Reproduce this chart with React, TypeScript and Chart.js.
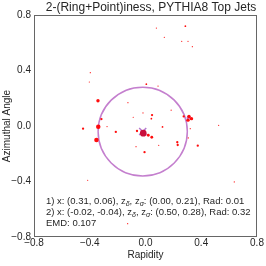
import React, { useEffect, useRef } from 'react';
import { Chart, registerables } from 'chart.js';

Chart.register(...registerables);

// ---- Data ----
const particleX = [0.078, 0.286, 0.135, 0.260, 0.305, 0.336, -0.396, -0.403, 0.006, 0.090, -0.341, -0.126, -0.316, -0.339, -0.448, -0.276, -0.213, -0.088, -0.018, 0.047, 0.042, 0.122, 0.184, 0.274, 0.312, 0.330, 0.305, 0.321, 0.525, -0.016, 0.020, 0.045, -0.061, -0.352, 0.228, 0.231, 0.375, 0.095, -0.007, -0.068, -0.415, 0.637, -0.128, 0.307];
const particleY = [0.706, 0.719, 0.639, 0.610, 0.610, 0.572, 0.384, 0.317, 0.301, 0.288, 0.182, 0.168, 0.050, -0.005, -0.019, -0.004, -0.043, 0.063, 0.094, 0.079, 0.053, -0.007, 0.114, 0.069, 0.069, 0.053, 0.042, -0.019, 0.005, -0.052, -0.067, -0.081, -0.036, -0.101, -0.117, -0.137, -0.142, -0.139, -0.189, -0.149, -0.391, -0.403, -0.704, -0.086];
const particleWeight = [1, 1.5, 1, 1, 1, 1, 1, 1, 1.5, 1, 3, 1, 2, 4, 2, 1, 2, 1, 1, 2, 1.5, 1.5, 1, 2, 3, 3, 3, 1, 1, 6, 2.5, 2.5, 2, 4, 2, 2, 2, 1, 2, 1, 1, 1, 1, 1];

const ringLabels = ['1)', '2)'];
const ringX = [0.31, -0.02];
const ringY = [0.06, -0.04];
const ringZDelta = [0.0, 0.5];
const ringZSigma = [0.21, 0.28];
const ringRad = [0.01, 0.32];
const emdValue = 0.107;

const axisTicks = [-0.8, -0.4, 0.0, 0.4, 0.8];
const axisTickLabels = ['\u22120.8', '\u22120.4', '0.0', '0.4', '0.8'];

const titleText = '2-(Ring+Point)iness, PYTHIA8 Top Jets';
const xTitle = 'Rapidity';
const yTitle = 'Azimuthal Angle';

const FONT = '"Liberation Sans", Arial, sans-serif';

const fmt = (v: number) => v.toFixed(2);

const overlayPlugin = {
  id: 'overlay',
  beforeDatasetsDraw(chart: any) {
    const { ctx, scales } = chart;
    const xs = scales.x;
    const ys = scales.y;
    ctx.save();
    ctx.strokeStyle = '#c47fce';
    ctx.lineWidth = 1.5;
    for (let i = 0; i < ringX.length; i++) {
      const cx = xs.getPixelForValue(ringX[i]);
      const cy = ys.getPixelForValue(ringY[i]);
      const rx = Math.abs(xs.getPixelForValue(ringX[i] + ringRad[i]) - cx);
      const ry = Math.abs(ys.getPixelForValue(ringY[i] + ringRad[i]) - cy);
      ctx.beginPath();
      ctx.ellipse(cx, cy, rx, ry, 0, 0, Math.PI * 2);
      ctx.stroke();
    }
    ctx.restore();
  },
  afterDraw(chart: any) {
    const { ctx, chartArea } = chart;
    const { left, right, top, bottom } = chartArea;
    ctx.save();
    // frame
    ctx.strokeStyle = '#666';
    ctx.lineWidth = 1;
    ctx.strokeRect(left + 0.5, top + 0.5, right - left - 1, bottom - top - 1);

    // title
    ctx.fillStyle = '#262626';
    ctx.font = `12px ${FONT}`;
    ctx.textAlign = 'center';
    ctx.textBaseline = 'middle';
    ctx.fillText(titleText, 151, 8);

    // axis titles
    ctx.font = `10px ${FONT}`;
    ctx.fillText(xTitle, (left + right) / 2, 255);
    ctx.save();
    ctx.translate(7, (top + bottom) / 2);
    ctx.rotate(-Math.PI / 2);
    ctx.fillText(yTitle, 0, 0);
    ctx.restore();

    // annotation
    ctx.textAlign = 'left';
    ctx.textBaseline = 'middle';
    const size = 9.5;
    const lineY = [201.5, 212.5, 223.5];
    const drawSegs = (segs: [string, boolean][], x: number, y: number) => {
      let cx = x;
      for (const [t, sub] of segs) {
        if (sub) {
          ctx.font = `italic 7px ${FONT}`;
          ctx.fillText(t, cx, y + 2.5);
        } else {
          ctx.font = `${size}px ${FONT}`;
          ctx.fillText(t, cx, y);
        }
        cx += ctx.measureText(t).width;
      }
    };
    for (let i = 0; i < ringX.length; i++) {
      drawSegs(
        [
          [`${ringLabels[i]} x: (${fmt(ringX[i])}, ${fmt(ringY[i])}), z`, false],
          ['\u03b4', true],
          [', z', false],
          ['\u03c3', true],
          [`: (${fmt(ringZDelta[i])}, ${fmt(ringZSigma[i])}), Rad: ${fmt(ringRad[i])}`, false],
        ],
        46,
        lineY[i]
      );
    }
    drawSegs([[`EMD: ${emdValue.toFixed(3)}`, false]], 46, lineY[2]);
    ctx.restore();
  },
};

export default function App() {
  const ref = useRef<HTMLCanvasElement>(null);
  useEffect(() => {
    if (!ref.current) return;
    const pts = particleX.map((x, i) => ({ x, y: particleY[i] }));
    const chart = new Chart(ref.current, {
      type: 'scatter',
      data: {
        datasets: [
          {
            data: pts,
            pointRadius: particleWeight.map((w) => 0.6 + (w - 1) * 0.55),
            pointHoverRadius: particleWeight.map((w) => 0.6 + (w - 1) * 0.55),
            backgroundColor: particleWeight.map((w) => (w >= 5 ? '#c8103c' : 'rgba(255,0,0,0.95)')),
            borderWidth: 0,
          },
          {
            data: [{ x: ringX[1], y: ringY[1] }],
            pointStyle: 'crossRot',
            pointRadius: 5,
            borderColor: '#b57ad0',
            borderWidth: 1.5,
            backgroundColor: 'transparent',
          },
        ],
      },
      options: {
        responsive: false,
        animation: false,
        events: [],
        layout: { padding: { top: 15, right: 9, left: 0, bottom: 0 } },
        plugins: { legend: { display: false }, tooltip: { enabled: false }, title: { display: false } },
        scales: {
          x: {
            type: 'linear',
            min: -0.8,
            max: 0.8,
            afterBuildTicks: (s: any) => {
              s.ticks = axisTicks.map((v) => ({ value: v }));
            },
            afterFit: (s: any) => {
              s.height = 29;
            },
            grid: { display: false, drawTicks: false },
            border: { display: false },
            ticks: {
              autoSkip: false,
              maxRotation: 0,
              padding: 0,
              color: '#262626',
              font: { family: FONT, size: 10 },
              callback: (_v: any, i: number) => axisTickLabels[i],
            },
          },
          y: {
            type: 'linear',
            min: -0.8,
            max: 0.8,
            afterBuildTicks: (s: any) => {
              s.ticks = axisTicks.map((v) => ({ value: v }));
            },
            afterFit: (s: any) => {
              s.width = 34;
            },
            grid: { display: false, drawTicks: false },
            border: { display: false },
            ticks: {
              autoSkip: false,
              padding: 3,
              color: '#262626',
              font: { family: FONT, size: 10 },
              callback: (_v: any, i: number) => axisTickLabels[i],
            },
          },
        },
      },
      plugins: [overlayPlugin],
    });
    return () => chart.destroy();
  }, []);
  return (
    <div style={{ position: 'fixed', left: 0, top: 0, width: 266, height: 266, background: '#fff' }}>
      <canvas ref={ref} width={266} height={266} />
    </div>
  );
}
